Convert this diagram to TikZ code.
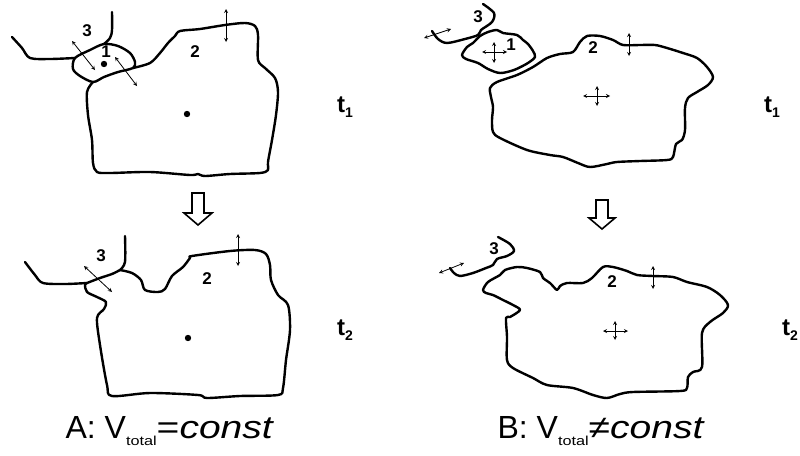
\documentclass[tikz,border=0pt]{standalone}
\usepackage{fontspec}
\setmainfont{Liberation Sans}
\tikzset{
    grain/.style={line width=2.4pt, line cap=round, line join=round},
    move/.style={stealth-stealth, line width=0.8pt},
    num/.style={font=\fontsize{17}{17}\selectfont\bfseries},
    tlab/.style={font=\fontsize{24}{24}\selectfont\bfseries},
    caption/.style={font=\fontsize{32}{32}\selectfont, anchor=base west},
    hollow/.style={line width=1.6pt, line join=miter}
}
\newcommand{\tsub}[1]{\raisebox{-7pt}{\scalebox{1.25}[1]{\fontsize{13}{13}\selectfont #1}}}
\newcommand{\wide}[1]{\scalebox{1.22}[1]{#1}}
\begin{document}
\begin{tikzpicture}[x=1pt, y=-1pt]
    \useasboundingbox (0,0) rectangle (800,455);

    % A, t1
    \draw[grain] plot[smooth] coordinates {(12,37) (22,48) (30,58) (50,59) (75,58)};
    \draw[grain] plot[smooth] coordinates {(112,12) (112,30) (110,38) (104,44)};
    \draw[grain] plot[smooth cycle] coordinates {(75,58) (90,50) (104,44) (118,46)
        (130,53) (135,62) (133,68) (118,72) (104,77) (93,82) (80,76) (73,69)};
    \draw[grain] plot[smooth] coordinates {(133,68) (150,63) (160,53) (168,43) (175,36)
        (180,31) (200,29) (225,25) (245,23) (255,26) (258,35) (258,60) (265,68)
        (275,78) (278,92) (276,115) (272,140) (268,162) (268,170) (260,173) (230,174)
        (205,176) (198,174) (190,175) (150,172) (110,173) (97,172) (93,163) (92,140)
        (88,115) (87,92) (93,82)};
    \fill (104,64) circle (3.2);
    \fill (187,114) circle (3.2);
    \node[num] (a1n3) at (87,31) {3};
    \node[num] (a1n1) at (106,52) {1};
    \node[num] (a1n2) at (195,52) {2};
    \coordinate (a1p) at (72,41);
    \coordinate (a1q) at (95,70);
    \coordinate (a1r) at (115,57);
    \coordinate (a1s) at (137,86);
    \coordinate (a1u) at (226,9);
    \coordinate (a1d) at (226,42);
    \draw[move] (a1p) -- (a1q);
    \draw[move] (a1r) -- (a1s);
    \draw[move] (a1u) -- (a1d);
    \node[tlab] (a1t) at (345,107) {t\raisebox{-5pt}{\fontsize{14}{14}\selectfont 1}};

    \draw[hollow] (192,193) -- (204,193) -- (204,213) -- (212,213) -- (198,225)
        -- (184,213) -- (192,213) -- cycle;

    % A, t2
    \draw[grain] plot[smooth] coordinates {(25,262) (35,275) (43,283) (65,284) (87,283)};
    \draw[grain] plot[smooth] coordinates {(125,236) (125,262) (120,270)};
    \draw[grain] plot[smooth] coordinates {(87,283) (100,278) (112,274) (120,270)};
    \draw[grain] plot[smooth] coordinates {(120,270) (132,273) (141,280) (145,290)
        (158,292) (165,289) (172,276) (183,267) (190,258) (192,256) (230,251) (255,250)
        (266,254) (270,265) (271,280) (278,295) (288,305) (290,330) (286,360) (283,388)
        (278,395) (240,396) (207,398) (198,395) (150,393) (112,396) (107,385) (100,345)
        (97,318) (104,309) (106,302) (97,297) (87,292) (85,285) (87,283)};
    \fill (188,338) circle (3.2);
    \node[num] (a2n3) at (101,256) {3};
    \node[num] (a2n2) at (207,279) {2};
    \coordinate (a2p) at (84,266);
    \coordinate (a2q) at (112,292);
    \coordinate (a2u) at (238,234);
    \coordinate (a2d) at (238,266);
    \draw[move] (a2p) -- (a2q);
    \draw[move] (a2u) -- (a2d);
    \node[tlab] (a2t) at (345,330) {t\raisebox{-5pt}{\fontsize{14}{14}\selectfont 2}};

    % B, t1
    \draw[grain] plot[smooth] coordinates {(483,4) (494,13) (492,22) (481,30) (478,35)
        (465,39) (447,43) (438,39) (432,31)};
    \draw[grain] plot[smooth cycle] coordinates {(462,55) (467,47) (473,43) (480,36)
        (488,32) (497,30) (503,33) (517,35) (523,40) (528,44) (533,51) (535,57)
        (528,63) (514,70) (500,73) (488,69) (478,63) (466,59)};
    \draw[grain] plot[smooth cycle] coordinates {(490,88) (497,82) (517,75) (533,67)
        (547,58) (560,54) (573,52) (580,42) (587,36) (600,36) (613,40) (623,45)
        (640,45) (655,45) (667,48) (683,53) (697,58) (707,67) (713,77) (708,85)
        (697,92) (688,98) (685,108) (685,130) (682,140) (676,144) (673,157) (667,160)
        (640,161) (617,162) (607,164) (590,167) (578,163) (563,157) (550,155)
        (527,150) (500,138) (493,132) (492,120) (493,107) (491,97)};
    \node[num] (b1n3) at (478,17) {3};
    \node[num] (b1n1) at (511,45) {1};
    \node[num] (b1n2) at (593,48) {2};
    \coordinate (b1p) at (424,38);
    \coordinate (b1q) at (451,29);
    \coordinate (b1l) at (482,52);
    \coordinate (b1r) at (507,52);
    \coordinate (b1u) at (494,42);
    \coordinate (b1d) at (494,63);
    \coordinate (b1cl) at (583,96);
    \coordinate (b1cr) at (610,96);
    \coordinate (b1cu) at (597,86);
    \coordinate (b1cd) at (597,106);
    \coordinate (b1tu) at (629,33);
    \coordinate (b1td) at (629,56);
    \draw[move] (b1p) -- (b1q);
    \draw[move] (b1l) -- (b1r);
    \draw[move] (b1u) -- (b1d);
    \draw[move] (b1cl) -- (b1cr);
    \draw[move] (b1cu) -- (b1cd);
    \draw[move] (b1tu) -- (b1td);
    \node[tlab] (b1t) at (772,107) {t\raisebox{-5pt}{\fontsize{14}{14}\selectfont 1}};

    \draw[hollow] (596,200) -- (608,200) -- (608,218) -- (615,218) -- (602,229)
        -- (589,218) -- (596,218) -- cycle;

    % B, t2
    \draw[grain] plot[smooth] coordinates {(498,237) (510,244) (514,251) (507,256)
        (497,259) (493,265) (486,268) (473,273) (460,276) (454,273) (450,268)};
    \draw[grain] plot[smooth cycle] coordinates {(483,290) (488,282) (500,275) (505,270)
        (517,267) (527,268) (540,272) (543,278) (550,283) (557,290) (560,286)
        (567,283) (583,283) (592,278) (603,267) (613,267) (627,271) (637,275)
        (653,276) (673,277) (687,282) (707,287) (720,295) (728,305) (723,313)
        (710,322) (702,333) (702,367) (693,372) (688,377) (687,388) (680,391)
        (633,392) (620,394) (607,398) (593,395) (573,388) (547,385) (533,378)
        (513,368) (507,360) (507,337) (506,318) (510,317) (520,310) (513,305)
        (503,300) (493,295) (486,293)};
    \node[num] (b2n3) at (494,249) {3};
    \node[num] (b2n2) at (612,282) {2};
    \coordinate (b2p) at (439,273);
    \coordinate (b2q) at (464,263);
    \coordinate (b2cl) at (603,331);
    \coordinate (b2cr) at (628,331);
    \coordinate (b2cu) at (615,321);
    \coordinate (b2cd) at (615,340);
    \coordinate (b2tu) at (653,266);
    \coordinate (b2td) at (653,289);
    \draw[move] (b2p) -- (b2q);
    \draw[move] (b2cl) -- (b2cr);
    \draw[move] (b2cu) -- (b2cd);
    \draw[move] (b2tu) -- (b2td);
    \node[tlab] (b2t) at (790,330) {t\raisebox{-5pt}{\fontsize{14}{14}\selectfont 2}};

    % captions
    \node[caption] (capA) at (62,438) {A: V\tsub{total}\wide{=\textit{const}}};
    \node[caption] (capB) at (494,438) {B: V\tsub{total}\wide{≠\textit{const}}};

\end{tikzpicture}
\end{document}
